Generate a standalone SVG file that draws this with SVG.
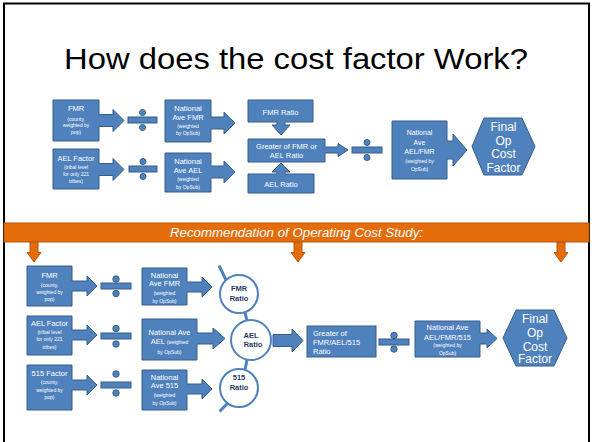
<svg xmlns="http://www.w3.org/2000/svg" width="592" height="442" viewBox="0 0 592 442">
<style>
.b{fill:#4F81BD;stroke:#385D8A;stroke-width:1}
.o{fill:#E46C0A;stroke:#B65708;stroke-width:1}
.c{fill:#FFFFFF;stroke:#4F81BD;stroke-width:2}
.ln{stroke:#4F81BD;stroke-width:3;fill:none}
text{font-family:"Liberation Sans",Arial,sans-serif;fill:#FFFFFF;text-anchor:middle}
.h{font-size:7.5px}
.s{font-size:5px}
.x{font-size:12px}
.r{font-size:7.5px;font-weight:bold;fill:#1F3B63}
</style>
<rect x="4" y="3.5" width="585" height="450" fill="#FFFFFF" stroke="#000000" stroke-width="2"/>
<text x="296" y="69" style="font-size:30px;fill:#000000" textLength="464" lengthAdjust="spacingAndGlyphs">How does the cost factor Work?</text>

<!-- top section -->
<g id="t-fmr"><path class="b" d="M53,100H99V114.5H113V109.5L124,120.5L113,131.5V126.5H99V141H53Z"/>
<text class="h" x="76" y="111">FMR</text><text class="s" x="76" y="120.5">(county,</text><text class="s" x="76" y="127">weighted by</text><text class="s" x="76" y="134">pop)</text></g>
<g id="t-div1"><rect class="b" x="128" y="117" width="29" height="6"/><circle class="b" cx="142.5" cy="112.5" r="3"/><circle class="b" cx="142.5" cy="127.5" r="3"/></g>
<g id="t-nafmr"><path class="b" d="M165,100H211V117H224V112L235,123L224,134V129H211V142H165Z"/>
<text class="h" x="188" y="111">National</text><text class="h" x="188" y="120">Ave FMR</text><text class="s" x="188" y="128">(weighted</text><text class="s" x="188" y="135">by OpSub)</text></g>
<g id="t-ael"><path class="b" d="M53,149H99V163.5H113V158.5L124,169.5L113,180.5V175.5H99V189H53Z"/>
<text class="h" x="76" y="160.5">AEL Factor</text><text class="s" x="76" y="169.3">(tribal level</text><text class="s" x="76" y="176">for only 221</text><text class="s" x="76" y="182.7">tribes)</text></g>
<g id="t-div2"><rect class="b" x="129" y="166" width="28" height="6"/><circle class="b" cx="143" cy="161.5" r="3"/><circle class="b" cx="143" cy="176.5" r="3"/></g>
<g id="t-naael"><path class="b" d="M165,153H211V166H224V161L235,172L224,183V178H211V192H165Z"/>
<text class="h" x="188" y="164">National</text><text class="h" x="188" y="173">Ave AEL</text><text class="s" x="188" y="181">(weighted</text><text class="s" x="188" y="189">by OpSub)</text></g>
<g id="t-fmrratio"><path class="b" d="M248,100H313V122H285V125H290L281,135L272,125H277V122H248Z"/>
<text class="h" x="280.5" y="114.5">FMR Ratio</text></g>
<g id="t-greater"><path class="b" d="M248,139H325V147H338V143.5L348,150L338,156.5V153H325V162H248Z"/>
<text class="h" x="286.5" y="149">Greater of FMR or</text><text class="h" x="286.5" y="158">AEL Ratio</text></g>
<g id="t-aelratio"><path class="b" d="M248,174H277V172H272L281,163L290,172H285V174H314V193H248Z"/>
<text class="h" x="281" y="186.5">AEL Ratio</text></g>
<g id="t-div3"><rect class="b" x="352" y="147" width="30" height="6"/><circle class="b" cx="367" cy="142.5" r="3"/><circle class="b" cx="367" cy="157.5" r="3"/></g>
<g id="t-naaelfmr"><path class="b" d="M392,121H447V141H453V134L467,150L453,166V159H447V179H392Z"/>
<text style="font-size:7px" x="419.5" y="134.5">National</text><text style="font-size:7px" x="419.5" y="144.5">Ave</text><text style="font-size:7px" x="419.5" y="153.5">AEL/FMR</text><text class="s" x="419.5" y="163">(weighted by</text><text class="s" x="419.5" y="171">OpSub)</text></g>
<g id="t-final"><path class="b" d="M472,146.5L484,118H522L535,146.5L522,175H484Z"/>
<text class="x" x="503.5" y="130.5">Final</text><text class="x" x="503.5" y="144.5">Op</text><text class="x" x="503.5" y="158">Cost</text><text class="x" x="503.5" y="171.5">Factor</text></g>

<!-- orange bar -->
<g id="recommendation">
<rect class="o" x="4" y="223" width="585" height="19"/>
<text x="296.5" y="237" style="font-size:12.5px;font-style:italic" textLength="253" lengthAdjust="spacingAndGlyphs">Recommendation of Operating Cost Study:</text>
</g>

<!-- connectors -->
<g id="connectors">
<path class="o" d="M30,242H38V252.5H41L34,262L27,252.5H30Z"/>
<path class="o" d="M294,242H302V252.5H305L298,262L291,252.5H294Z"/>
<path class="o" d="M557,242H565V252.5H568L561,262L554,252.5H557Z"/>
<line class="ln" x1="226" y1="280" x2="219" y2="265.5"/>
<line class="ln" x1="245" y1="312" x2="247" y2="321"/>
<line class="ln" x1="247" y1="359.5" x2="245" y2="370"/>
<line class="ln" x1="228" y1="403" x2="219.5" y2="411.5"/>
<path class="b" d="M273,334.5H292V329L303,340.5L292,352V346.5H273Z"/>
</g>

<!-- bottom section -->
<g id="b-fmr"><path class="b" d="M27,266H72V281H87V276L97,286L87,296V291H72V306H27Z"/>
<text class="h" x="49.5" y="278">FMR</text><text class="s" x="49.5" y="286.5">(county,</text><text class="s" x="49.5" y="294">weighted by</text><text class="s" x="49.5" y="300.5">pop)</text></g>
<g id="b-div1"><rect class="b" x="101" y="283" width="30" height="6"/><circle class="b" cx="116" cy="279" r="3.2"/><circle class="b" cx="116" cy="293.5" r="3.2"/></g>
<g id="b-nafmr"><path class="b" d="M142,268H187V282H202V277L212,287L202,297V292H187V305H142Z"/>
<text class="h" x="164.5" y="278">National</text><text class="h" x="164.5" y="286">Ave FMR</text><text class="s" x="164.5" y="295">(weighted</text><text class="s" x="164.5" y="303">by OpSub)</text></g>
<g id="b-fmrratio"><circle class="c" cx="239" cy="294" r="19"/>
<text class="r" x="239" y="291">FMR</text><text class="r" x="239" y="301">Ratio</text></g>

<g id="b-ael"><path class="b" d="M27,316H72V330H87V325L97,335L87,345V340H72V355H27Z"/>
<text class="h" x="49.5" y="326">AEL Factor</text><text class="s" x="49.5" y="334">(tribal level</text><text class="s" x="49.5" y="341">for only 221</text><text class="s" x="49.5" y="349">tribes)</text></g>
<g id="b-div2"><rect class="b" x="101" y="333" width="30" height="6"/><circle class="b" cx="116" cy="328.5" r="3.2"/><circle class="b" cx="116" cy="344" r="3.2"/></g>
<g id="b-naael"><path class="b" d="M142,319H197V333H213V328L225,338.5L213,349V344H197V360H142Z"/>
<text class="h" x="169.5" y="335">National Ave</text><text x="169.5" y="344"><tspan style="font-size:7.5px">AEL </tspan><tspan style="font-size:5px">(weighted</tspan></text><text class="s" x="169.5" y="354">by OpSub)</text></g>
<g id="b-aelratio"><circle class="c" cx="251" cy="340" r="20"/>
<text class="r" x="251" y="337.5">AEL</text><text class="r" x="253" y="346.5">Ratio</text></g>

<g id="b-515"><path class="b" d="M27,365H72V380H87V375L97,385L87,395V390H72V410H27Z"/>
<text class="h" x="49.5" y="376">515 Factor</text><text class="s" x="49.5" y="384">(county,</text><text class="s" x="49.5" y="392">weighted by</text><text class="s" x="49.5" y="399">pop)</text></g>
<g id="b-div3"><rect class="b" x="101" y="382" width="30" height="6"/><circle class="b" cx="116" cy="374" r="3.2"/><circle class="b" cx="116" cy="393" r="3.2"/></g>
<g id="b-na515"><path class="b" d="M142,370H187V384H202V379L212,389L202,399V394H187V410H142Z"/>
<text class="h" x="164.5" y="380">National</text><text class="h" x="164.5" y="388">Ave 515</text><text class="s" x="164.5" y="397">(weighted</text><text class="s" x="164.5" y="405">by OpSub)</text></g>
<g id="b-515ratio"><circle class="c" cx="239" cy="388" r="19"/>
<text class="r" x="239" y="380">515</text><text class="r" x="239" y="390">Ratio</text></g>

<g id="b-greater"><rect class="b" x="307" y="326" width="69" height="31"/>
<text class="h" x="313" y="335.5" style="text-anchor:start">Greater of</text><text class="h" x="313" y="344.5" style="text-anchor:start">FMR/AEL/515</text><text class="h" x="313" y="353.5" style="text-anchor:start">Ratio</text></g>
<g id="b-div4"><rect class="b" x="379" y="339" width="30" height="6"/><circle class="b" cx="394" cy="335.5" r="3.2"/><circle class="b" cx="394" cy="349" r="3.2"/></g>
<g id="b-naall"><path class="b" d="M415,321H480V333H487V329L497,338.5L487,348V344H480V357H415Z"/>
<text class="h" x="447.5" y="329.5">National Ave</text><text class="h" x="447.5" y="339.5">AEL/FMR/515</text><text class="s" x="447.5" y="347">(weighted by</text><text class="s" x="447.5" y="355">OpSub)</text></g>
<g id="b-final"><path class="b" d="M503,338L516,310H554L567,338L554,366H516Z"/>
<text class="x" x="535" y="322.5">Final</text><text class="x" x="535" y="336.5">Op</text><text class="x" x="535" y="350.5">Cost</text><text class="x" x="535" y="363">Factor</text></g>
</svg>
